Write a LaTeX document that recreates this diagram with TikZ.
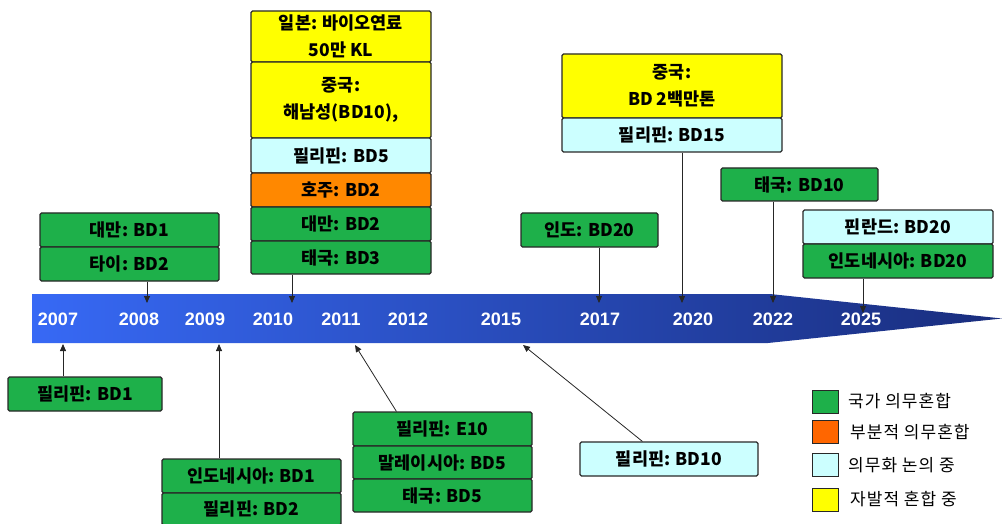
\documentclass[tikz,border=0pt]{standalone}
\usepackage{fontspec}
\setmainfont{Noto Sans CJK KR}
\newfontfamily\yrfam{Liberation Sans}
\usetikzlibrary{arrows.meta}
\definecolor{cgreen}{RGB}{30,176,74}
\definecolor{corange}{RGB}{255,136,0}
\definecolor{lorange}{RGB}{255,102,0}
\definecolor{ccyan}{RGB}{204,255,255}
\definecolor{cyellow}{RGB}{255,255,0}
\definecolor{bandL}{RGB}{55,105,245}
\definecolor{bandR}{RGB}{25,45,125}
\definecolor{edge}{RGB}{40,40,40}
\newcommand\bxf{\fontsize{17.5}{27}\selectfont\bfseries}
\newcommand\lgf{\fontsize{17}{19}\selectfont\addfontfeatures{LetterSpace=6}}
\newcommand\yrf{\yrfam\fontsize{18}{20}\selectfont\bfseries}
\tikzset{
  cell/.style={draw=edge, line width=1.1pt, rounded corners=1.5pt, font=\bxf, inner sep=0pt, align=center},
  gcell/.style={cell, fill=cgreen},
  ocell/.style={cell, fill=corange},
  ccell/.style={cell, fill=ccyan},
  ycell/.style={cell, fill=cyellow},
  arr/.style={-{Triangle[length=7pt,width=6pt]}, line width=0.8pt, draw=black!85},
  yr/.style={text=white, font=\yrf, inner sep=0pt},
  lgbox/.style={draw=edge, line width=1pt, minimum width=26pt, minimum height=23pt, inner sep=0pt},
  lgtext/.style={anchor=west, font=\lgf, inner sep=0pt}
}
\begin{document}
\begin{tikzpicture}[x=1pt,y=-1pt]
\useasboundingbox (0,0) rectangle (1002,524);
% band
\shade[left color=bandL, right color=bandR] (32,294) -- (770,294) -- (1002,318.5) -- (768,343) -- (32,343) -- cycle;
% years
\node[yr] (y07) at (58,319) {2007};
\node[yr] (y08) at (139,319) {2008};
\node[yr] (y09) at (205,319) {2009};
\node[yr] (y10) at (273,319) {2010};
\node[yr] (y11) at (341,319) {2011};
\node[yr] (y12) at (408,319) {2012};
\node[yr] (y15) at (501,319) {2015};
\node[yr] (y17) at (600,319) {2017};
\node[yr] (y20) at (693,319) {2020};
\node[yr] (y22) at (773,319) {2022};
\node[yr] (y25) at (861,319) {2025};
% band target points
\coordinate (a08) at (147,303);
\coordinate (a10) at (292,303);
\coordinate (a17) at (599,303);
\coordinate (a20) at (682,303);
\coordinate (a22) at (773,303);
\coordinate (a25) at (863,313);
\coordinate (b07) at (63,344);
\coordinate (b09) at (219,344);
\coordinate (b11) at (355,345);
\coordinate (b15) at (523,345);
% top boxes
\node[gcell, minimum width=179pt, minimum height=34pt] (tw1) at (129.5,230) {대만: BD1};
\node[gcell, minimum width=179pt, minimum height=34pt] (th1) at (129.5,264) {타이: BD2};

\node[ycell, minimum width=180pt, minimum height=51pt] (jp) at (341,36.5) {일본: 바이오연료\\50만 KL};
\node[ycell, minimum width=180pt, minimum height=76pt] (cn) at (341,100) {중국:\\해남성(BD10),};
\node[ccell, minimum width=180pt, minimum height=35pt] (ph5) at (341,155.5) {필리핀: BD5};
\node[ocell, minimum width=180pt, minimum height=34pt] (au) at (341,190) {호주: BD2};
\node[gcell, minimum width=180pt, minimum height=34pt] (tw2) at (341,224) {대만: BD2};
\node[gcell, minimum width=180pt, minimum height=33pt] (th3) at (341,257.5) {태국: BD3};

\node[gcell, minimum width=137pt, minimum height=34pt] (in20) at (589.5,230) {인도: BD20};

\node[ycell, minimum width=220pt, minimum height=64pt] (cn2) at (672,86) {중국:\\BD 2백만톤};
\node[ccell, minimum width=220pt, minimum height=34pt] (ph15) at (672,135) {필리핀: BD15};

\node[gcell, minimum width=157pt, minimum height=33pt] (th10) at (799.5,184.5) {태국: BD10};

\node[ccell, minimum width=190pt, minimum height=34pt] (fi) at (898,227) {핀란드: BD20};
\node[gcell, minimum width=190pt, minimum height=34pt] (id20) at (898,261) {인도네시아: BD20};

% bottom boxes
\node[gcell, minimum width=154pt, minimum height=34pt] (ph1) at (85,394) {필리핀: BD1};
\node[gcell, minimum width=179pt, minimum height=34pt] (id1) at (251.5,476) {인도네시아: BD1};
\node[gcell, minimum width=179pt, minimum height=32pt] (ph2) at (251.5,509) {필리핀: BD2};

\node[gcell, minimum width=179pt, minimum height=34pt] (e10) at (442.5,429) {필리핀: E10};
\node[gcell, minimum width=179pt, minimum height=33pt] (my5) at (442.5,462.5) {말레이시아: BD5};
\node[gcell, minimum width=179pt, minimum height=33pt] (th5) at (442.5,495.5) {태국: BD5};

\node[ccell, minimum width=178pt, minimum height=34pt] (ph10) at (669,459) {필리핀: BD10};

% connectors
\draw[arr] (th1.south -| a08) -- (a08);
\draw[arr] (th3.south -| a10) -- (a10);
\draw[arr] (in20.south -| a17) -- (a17);
\draw[arr] (ph15.south -| a20) -- (a20);
\draw[arr] (th10.south -| a22) -- (a22);
\draw[arr] (id20.south -| a25) -- (a25);
\draw[arr] (ph1.north -| b07) -- (b07);
\draw[arr] (id1.north -| b09) -- (b09);
\draw[arr] ([xshift=44pt]e10.north west) -- (b11);
\draw[arr] ([xshift=63pt]ph10.north west) -- (b15);

% legend
\node[lgbox, fill=cgreen] (l1) at (825,401.5) {};
\node[lgbox, fill=lorange] (l2) at (825,432) {};
\node[lgbox, fill=ccyan] (l3) at (825,465) {};
\node[lgbox, fill=cyellow] (l4) at (825,499.5) {};
\node[lgtext] (t1) at (848,401.5) {국가 의무혼합};
\node[lgtext] (t2) at (850,432) {부분적 의무혼합};
\node[lgtext] (t3) at (848,465) {의무화 논의 중};
\node[lgtext] (t4) at (850,499.5) {자발적 혼합 중};
\end{tikzpicture}
\end{document}
